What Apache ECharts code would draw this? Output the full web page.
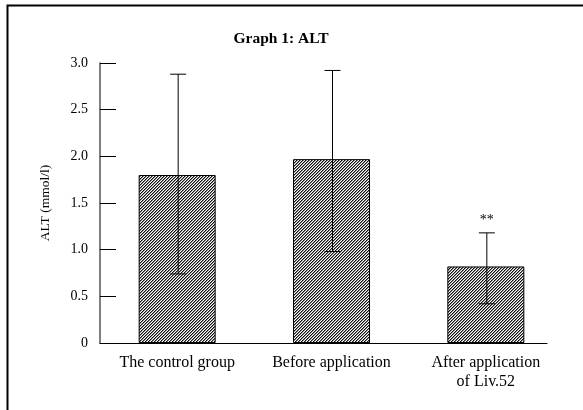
<!DOCTYPE html>
<html>
<head>
<meta charset="utf-8">
<script src="https://cdn.jsdelivr.net/npm/echarts@6/dist/echarts.min.js"></script>
<style>
html,body{margin:0;padding:0;background:#fff;}
#chart{width:583px;height:410px;}
</style>
</head>
<body>
<div id="chart"></div>
<script>
const categories = ['The control group', 'Before application', 'After application\nof Liv.52'];
const means = [1.8, 1.97, 0.82];
const upper = [2.88, 2.92, 1.18];
const lower = [0.74, 0.98, 0.42];
const marks = ['', '', '**'];
const yTicks = [0, 0.5, 1.0, 1.5, 2.0, 2.5, 3.0];

function makePattern() {
  const c = document.createElement('canvas');
  c.width = 3; c.height = 3;
  const ctx = c.getContext('2d');
  for (let x = 0; x < 3; x++) {
    for (let y = 0; y < 3; y++) {
      const k = (x + y) % 3;
      let col = '#ffffff';
      if (k === 0) col = '#111111';
      else if (k === 1) col = '#8a8a8a';
      ctx.fillStyle = col;
      ctx.fillRect(x, y, 1, 1);
    }
  }
  return c;
}

const chart = echarts.init(document.getElementById('chart'), null, {renderer: 'canvas'});
const font = 'Liberation Serif';
const errData = categories.map((c, i) => [i, lower[i], upper[i], marks[i]]);

chart.setOption({
  animation: false,
  backgroundColor: '#ffffff',
  title: {
    text: 'Graph 1: ALT',
    left: 276, top: 26, textAlign: 'center',
    textStyle: {fontFamily: font, fontSize: 15.5, fontWeight: 'bold', color: '#000'}
  },
  graphic: [{
    type: 'rect', left: 5, top: 3,
    shape: {width: 640, height: 440},
    style: {fill: 'none', stroke: '#000', lineWidth: 2},
    silent: true
  }],
  grid: [
    {left: 100, right: 20, top: 63, bottom: 67},
    {left: 100, right: 36, top: 63, bottom: 67}
  ],
  xAxis: [
    {
      type: 'category', gridIndex: 0, data: categories,
      axisLine: {show: false}, axisTick: {show: false},
      axisLabel: {fontFamily: font, fontSize: 16, color: '#000', margin: 10, lineHeight: 19, interval: 0}
    },
    {
      type: 'category', gridIndex: 1, data: categories,
      axisLine: {show: true, lineStyle: {color: '#000', width: 1}},
      axisTick: {show: false}, axisLabel: {show: false}
    }
  ],
  yAxis: [
    {
      type: 'value', gridIndex: 0, min: 0, max: 3, interval: 0.5,
      name: 'ALT (mmol/l)', nameLocation: 'middle', nameGap: 48, nameRotate: 90,
      nameTextStyle: {fontFamily: font, fontSize: 13.5, color: '#000'},
      axisLine: {show: true, lineStyle: {color: '#555', width: 1.5}},
      axisTick: {show: true, inside: true, length: 16, lineStyle: {color: '#000', width: 1}},
      splitLine: {show: false},
      axisLabel: {
        fontFamily: font, fontSize: 14, color: '#000', margin: 12,
        formatter: v => (v === 0 ? '0' : v.toFixed(1))
      }
    },
    {type: 'value', gridIndex: 1, min: 0, max: 3, show: false}
  ],
  series: [
    {
      type: 'bar', xAxisIndex: 0, yAxisIndex: 0, data: means, barWidth: 77,
      itemStyle: {
        color: {image: makePattern(), repeat: 'repeat'},
        borderColor: '#000', borderWidth: 1
      }
    },
    {
      type: 'custom', xAxisIndex: 0, yAxisIndex: 0, data: errData, z: 10,
      renderItem: function (params, api) {
        const x = api.coord([api.value(0), 0])[0] + 1;
        const lo = api.coord([api.value(0), api.value(1)])[1];
        const hi = api.coord([api.value(0), api.value(2)])[1];
        const idx = params.dataIndex;
        const half = 8;
        const st = {stroke: '#000', lineWidth: 1};
        const children = [
          {type: 'line', shape: {x1: x, y1: lo, x2: x, y2: hi}, style: st},
          {type: 'line', shape: {x1: x - half, y1: hi, x2: x + half, y2: hi}, style: st},
          {type: 'line', shape: {x1: x - half, y1: lo, x2: x + half, y2: lo}, style: st}
        ];
        const m = marks[idx];
        if (m) {
          children.push({type: 'text', style: {text: m, x: x, y: hi - 6, textAlign: 'center', textVerticalAlign: 'bottom', fontFamily: font, fontSize: 14, fill: '#000'}});
        }
        return {type: 'group', children: children};
      }
    }
  ]
});
</script>
</body>
</html>
